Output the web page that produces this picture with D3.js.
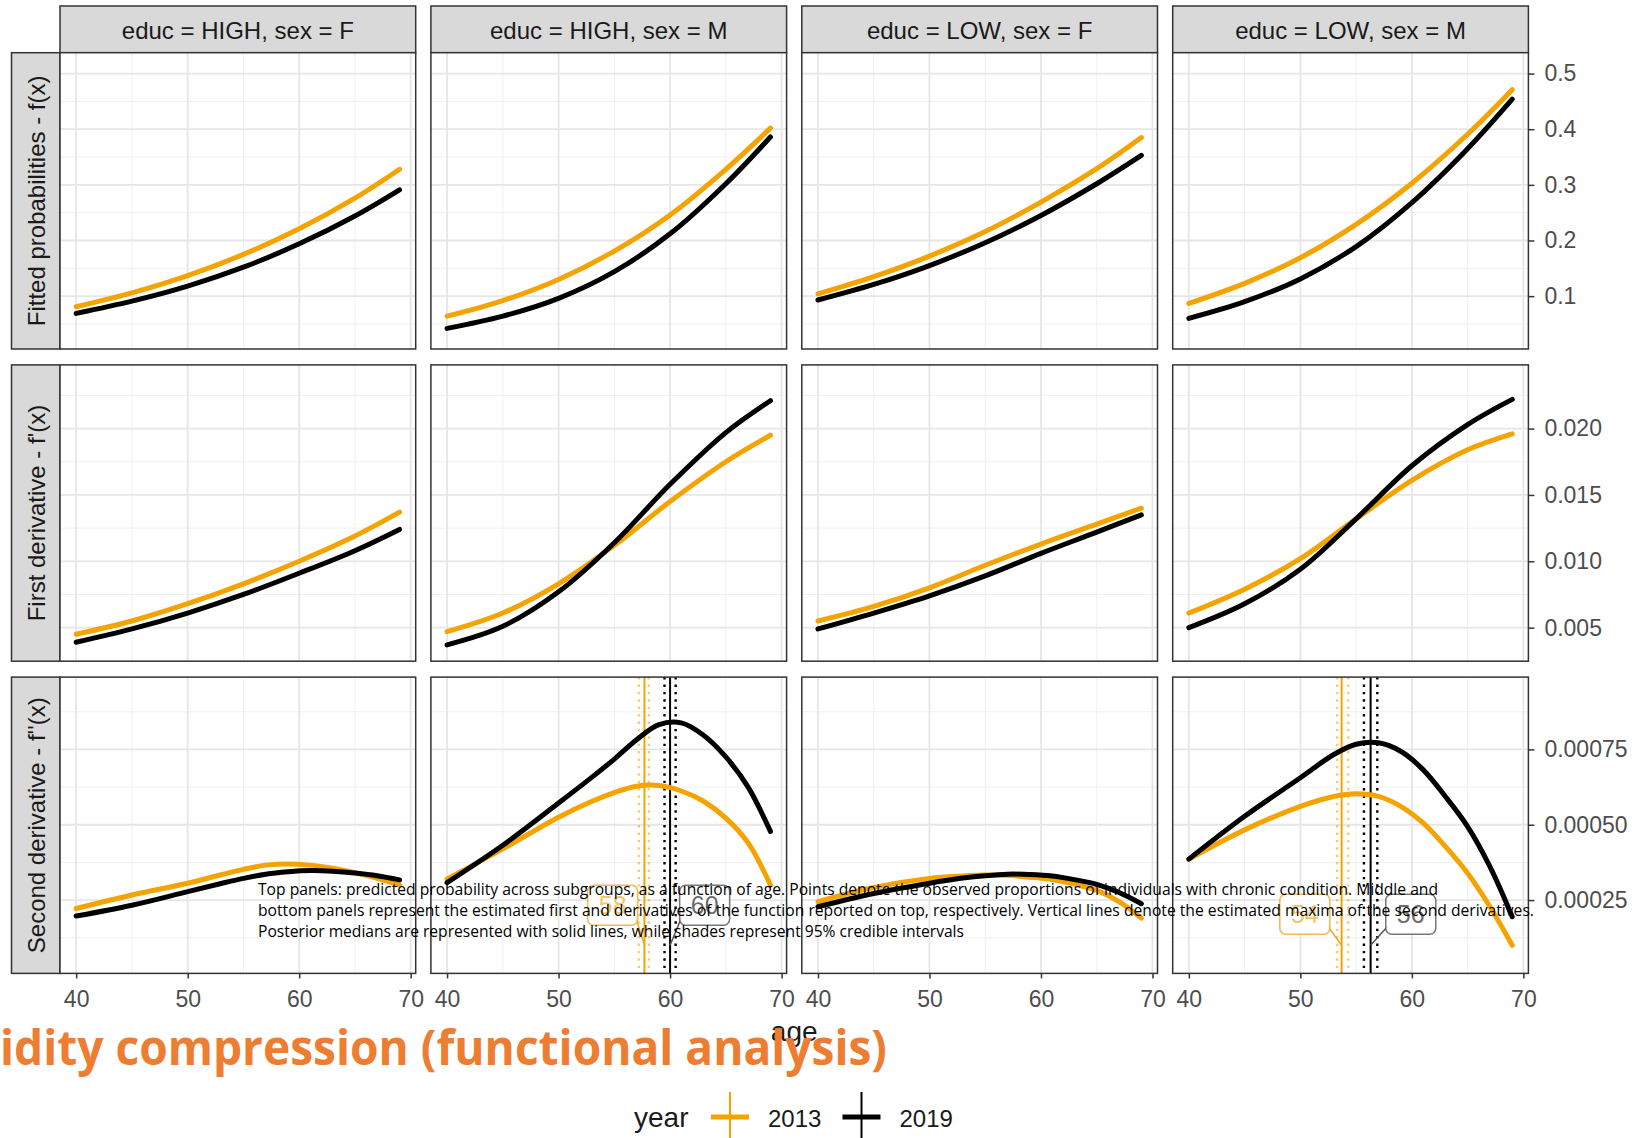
<!DOCTYPE html>
<html>
<head>
<meta charset="utf-8">
<script src="https://cdn.jsdelivr.net/npm/d3@7/dist/d3.min.js"></script>
<style>
  body { margin: 0; background: #fff; }
  svg { display: block; }
</style>
</head>
<body>
<div id="chart"></div>
<script>
// facets
const panelTitles = ["educ = HIGH, sex = F", "educ = HIGH, sex = M", "educ = LOW, sex = F", "educ = LOW, sex = M"];
const rowTitles = ["Fitted probabilities - f(x)", "First derivative - f'(x)", "Second derivative - f''(x)"];
const years = ["2013", "2019"];
const yearColors = ["#F4A300", "#000000"];

// ages
const ages = [40, 45, 50, 55, 60, 65, 69];
const agesPeak = [40, 45, 50, 53, 55, 57, 59, 61, 63, 65, 67, 69];

// fitted probabilities f(x), one array per panel
const prob2013 = [
  [0.081, 0.106, 0.137, 0.175, 0.221, 0.276, 0.328],
  [0.064, 0.092, 0.130, 0.181, 0.246, 0.328, 0.402],
  [0.104, 0.135, 0.172, 0.216, 0.269, 0.329, 0.385],
  [0.087, 0.123, 0.169, 0.229, 0.303, 0.391, 0.471]
];
const prob2019 = [
  [0.069, 0.091, 0.118, 0.152, 0.194, 0.244, 0.291],
  [0.042, 0.064, 0.096, 0.144, 0.212, 0.302, 0.386],
  [0.093, 0.121, 0.155, 0.196, 0.245, 0.302, 0.353],
  [0.060, 0.090, 0.131, 0.189, 0.268, 0.365, 0.454]
];

// first derivative f'(x)
const deriv2013 = [
  [0.0045, 0.0055, 0.0068, 0.0083, 0.0100, 0.0119, 0.0137],
  [0.0047, 0.0061, 0.0083, 0.0112, 0.0145, 0.0175, 0.0195],
  [0.0055, 0.0066, 0.0080, 0.0097, 0.0113, 0.0128, 0.0140],
  [0.0061, 0.0079, 0.0102, 0.0132, 0.0161, 0.0184, 0.0196]
];
const deriv2019 = [
  [0.0039, 0.0049, 0.0061, 0.0075, 0.0091, 0.0108, 0.0124],
  [0.0037, 0.0051, 0.0077, 0.0114, 0.0158, 0.0197, 0.0221],
  [0.0049, 0.0061, 0.0074, 0.0089, 0.0106, 0.0122, 0.0135],
  [0.0050, 0.0068, 0.0094, 0.0132, 0.0172, 0.0203, 0.0222]
];

// second derivative f''(x)
const second2013 = [
  [0.000222, 0.000267, 0.000306, 0.000334, 0.000352, 0.000366, 0.000370, 0.000366, 0.000356, 0.000341, 0.000322, 0.000300],
  [0.000320, 0.000420, 0.000525, 0.000578, 0.000607, 0.000628, 0.000630, 0.000612, 0.000578, 0.000522, 0.000440, 0.000300],
  [0.000245, 0.000292, 0.000322, 0.000330, 0.000333, 0.000332, 0.000326, 0.000318, 0.000303, 0.000282, 0.000245, 0.000190],
  [0.000386, 0.000483, 0.000561, 0.000594, 0.000603, 0.000594, 0.000561, 0.000506, 0.000428, 0.000339, 0.000228, 0.000100]
];
const second2019 = [
  [0.000197, 0.000233, 0.000278, 0.000305, 0.000322, 0.000336, 0.000344, 0.000348, 0.000346, 0.000340, 0.000331, 0.000317],
  [0.000308, 0.000432, 0.000572, 0.000658, 0.000718, 0.000782, 0.000832, 0.000838, 0.000797, 0.000725, 0.000625, 0.000478],
  [0.000228, 0.000272, 0.000306, 0.000323, 0.000331, 0.000336, 0.000335, 0.000330, 0.000318, 0.000302, 0.000275, 0.000238],
  [0.000386, 0.000528, 0.000656, 0.000733, 0.000767, 0.000772, 0.000744, 0.000683, 0.000594, 0.000494, 0.000361, 0.000195]
];

// maxima of the second derivative (median and 95% interval), male panels only
const peakMedian2013 = [null, 57.7, null, 53.7];
const peakLow2013 = [null, 57.2, null, 53.3];
const peakHigh2013 = [null, 58.1, null, 54.3];
const peakMedian2019 = [null, 60.0, null, 56.3];
const peakLow2019 = [null, 59.5, null, 55.7];
const peakHigh2019 = [null, 60.5, null, 56.9];
const peakText2013 = [null, "58", null, "54"];
const peakText2019 = [null, "60", null, "56"];
// repelled label centres (age, value) and segment end value
const labelAge2013 = [null, 54.85, null, 50.4];
const labelAge2019 = [null, 63.1, null, 59.9];
const labelVal = [null, 0.000233, null, 0.000203];
const segEndVal = [null, 0.00010, null, 0.00010];

// axes
const xDomain = [38.55, 70.45];
const xMajor = [40, 50, 60, 70];
const xMinor = [45, 55, 65];
const yDomains = [[0.005, 0.5375], [0.00247, 0.0248], [0.0000067, 0.00099]];
const yMajor = [[0.1, 0.2, 0.3, 0.4, 0.5], [0.005, 0.010, 0.015, 0.020], [0.00025, 0.0005, 0.00075]];
const yMinor = [[0.05, 0.15, 0.25, 0.35, 0.45], [0.0025, 0.0075, 0.0125, 0.0175, 0.0225], [0.000125, 0.000375, 0.000625, 0.000875]];
const yFormats = [".1f", ".3f", ".5f"];

const captionLines = [
  "Top panels: predicted probability across subgroups, as a function of age. Points denote the observed proportions of individuals with chronic condition. Middle and",
  "bottom panels represent the estimated first and derivatives of the function reported on top, respectively. Vertical lines denote the estimated maxima of the second derivatives.",
  "Posterior medians are represented with solid lines, while shades represent 95% credible intervals"
];
const captionWidths = [1180, 1276, 706];
const titleText = "idity compression (functional analysis)";

// layout
const width = 1636, height = 1138;
const left0 = 60, panelW = 355.7, gapX = 15.2;
const stripTop = 6, stripH = 46.7;
const top0 = stripTop + stripH, panelH = 296.3, gapY = 15.9;
const leftStrip = 11.5;
const colLeft = c => left0 + c * (panelW + gapX);
const rowTop = r => top0 + r * (panelH + gapY);
const font = "'Liberation Sans', Arial, sans-serif";

const svg = d3.select("#chart").append("svg")
  .attr("width", width)
  .attr("height", height)
  .style("font-family", font);

const x = d3.scaleLinear().domain(xDomain).range([0, panelW]);

const seriesByRow = [
  [prob2013, prob2019],
  [deriv2013, deriv2019],
  [second2013, second2019]
];
const agesByRow = [ages, ages, agesPeak];

// top strips
panelTitles.forEach((t, c) => {
  const g = svg.append("g").attr("transform", `translate(${colLeft(c)},${stripTop})`);
  g.append("rect")
    .attr("width", panelW).attr("height", stripH)
    .attr("fill", "#D9D9D9").attr("stroke", "#333").attr("stroke-width", 1.5);
  g.append("text")
    .attr("x", panelW / 2).attr("y", stripH / 2 + 1)
    .attr("text-anchor", "middle").attr("dominant-baseline", "central")
    .attr("fill", "#1A1A1A").style("font-size", "24px")
    .text(t);
});

rowTitles.forEach((rowTitle, r) => {
  const y = d3.scaleLinear().domain(yDomains[r]).range([panelH, 0]);

  // left strip
  const sg = svg.append("g").attr("transform", `translate(${leftStrip},${rowTop(r)})`);
  sg.append("rect")
    .attr("width", left0 - leftStrip).attr("height", panelH)
    .attr("fill", "#D9D9D9").attr("stroke", "#333").attr("stroke-width", 1.5);
  sg.append("text")
    .attr("transform", `translate(${(left0 - leftStrip) / 2 + 1},${panelH / 2}) rotate(-90)`)
    .attr("text-anchor", "middle").attr("dominant-baseline", "central")
    .attr("fill", "#1A1A1A").style("font-size", "24px")
    .text(rowTitle);

  panelTitles.forEach((t, c) => {
    const g = svg.append("g").attr("transform", `translate(${colLeft(c)},${rowTop(r)})`);

    g.append("rect").attr("width", panelW).attr("height", panelH).attr("fill", "#fff");

    // grid
    g.selectAll(".vminor").data(xMinor).join("line")
      .attr("x1", d => x(d)).attr("x2", d => x(d)).attr("y1", 0).attr("y2", panelH)
      .attr("stroke", "#F0F0F0").attr("stroke-width", 1);
    g.selectAll(".hminor").data(yMinor[r]).join("line")
      .attr("y1", d => y(d)).attr("y2", d => y(d)).attr("x1", 0).attr("x2", panelW)
      .attr("stroke", "#F0F0F0").attr("stroke-width", 1);
    g.selectAll(".vmajor").data(xMajor).join("line")
      .attr("x1", d => x(d)).attr("x2", d => x(d)).attr("y1", 0).attr("y2", panelH)
      .attr("stroke", "#E6E6E6").attr("stroke-width", 1.8);
    g.selectAll(".hmajor").data(yMajor[r]).join("line")
      .attr("y1", d => y(d)).attr("y2", d => y(d)).attr("x1", 0).attr("x2", panelW)
      .attr("stroke", "#E6E6E6").attr("stroke-width", 1.8);

    // vertical lines for maxima (bottom row)
    if (r === 2 && peakMedian2013[c] !== null) {
      const vl = [
        { lo: peakLow2013[c], med: peakMedian2013[c], hi: peakHigh2013[c], col: yearColors[0], op: 0.55 },
        { lo: peakLow2019[c], med: peakMedian2019[c], hi: peakHigh2019[c], col: yearColors[1], op: 1 }
      ];
      vl.forEach(v => {
        [v.lo, v.hi].forEach(a => {
          g.append("line")
            .attr("x1", x(a)).attr("x2", x(a)).attr("y1", 0).attr("y2", panelH)
            .attr("stroke", v.col).attr("stroke-opacity", v.op)
            .attr("stroke-width", 2.4).attr("stroke-dasharray", "2.4,5");
        });
        g.append("line")
          .attr("x1", x(v.med)).attr("x2", x(v.med)).attr("y1", 0).attr("y2", panelH)
          .attr("stroke", v.col).attr("stroke-width", 2);
      });
    }

    // curves
    const line = d3.line()
      .x((d, i) => x(agesByRow[r][i]))
      .y(d => y(d))
      .curve(d3.curveCatmullRom.alpha(0.5));

    seriesByRow[r].forEach((series, k) => {
      g.append("path")
        .datum(series[c])
        .attr("fill", "none")
        .attr("stroke", yearColors[k])
        .attr("stroke-width", 5)
        .attr("stroke-linecap", "round")
        .attr("d", line);
    });

    // repelled labels for the maxima
    if (r === 2 && peakMedian2013[c] !== null) {
      const labs = [
        { age: labelAge2013[c], text: peakText2013[c], med: peakMedian2013[c], col: "#EBA82A", tcol: "#F0B640" },
        { age: labelAge2019[c], text: peakText2019[c], med: peakMedian2019[c], col: "#555", tcol: "#444" }
      ];
      const bw = 50, bh = 40;
      labs.forEach(l => {
        const cx = x(l.age), cy = y(labelVal[c]);
        const side = x(l.med) > cx ? 1 : -1;
        g.append("line")
          .attr("x1", cx + side * (bw / 2 - 2)).attr("y1", cy + bh * 0.3)
          .attr("x2", x(l.med)).attr("y2", y(segEndVal[c]))
          .attr("stroke", l.col).attr("stroke-width", 1.5);
        g.append("rect")
          .attr("x", cx - bw / 2).attr("y", cy - bh / 2)
          .attr("width", bw).attr("height", bh).attr("rx", 6)
          .attr("fill", "#fff").attr("fill-opacity", 0.85)
          .attr("stroke", l.col).attr("stroke-width", 1.5).attr("stroke-opacity", 0.8);
        g.append("text")
          .attr("x", cx).attr("y", cy)
          .attr("text-anchor", "middle").attr("dominant-baseline", "central")
          .attr("fill", l.tcol).attr("fill-opacity", 0.8)
          .style("font-size", "25px")
          .text(l.text);
      });
    }

    // panel border
    g.append("rect").attr("width", panelW).attr("height", panelH)
      .attr("fill", "none").attr("stroke", "#333").attr("stroke-width", 1.5);

    // x axis on bottom row
    if (r === 2) {
      const ax = g.append("g").attr("transform", `translate(0,${panelH})`)
        .call(d3.axisBottom(x).tickValues(xMajor).tickSize(5).tickPadding(12).tickFormat(d3.format("d")));
      ax.select(".domain").remove();
      ax.selectAll("line").attr("stroke", "#333").attr("stroke-width", 1.5);
      ax.selectAll("text").attr("fill", "#4D4D4D").style("font-size", "23px").style("font-family", font);
    }
    // y axis on right column
    if (c === 3) {
      const ay = g.append("g").attr("transform", `translate(${panelW},0)`)
        .call(d3.axisRight(y).tickValues(yMajor[r]).tickSize(6).tickPadding(10).tickFormat(d3.format(yFormats[r])));
      ay.select(".domain").remove();
      ay.selectAll("line").attr("stroke", "#333").attr("stroke-width", 1.5);
      ay.selectAll("text").attr("fill", "#4D4D4D").style("font-size", "23px").style("font-family", font);
    }
  });
});

// x axis title
svg.append("text")
  .attr("x", (colLeft(0) + colLeft(3) + panelW) / 2).attr("y", 1041)
  .attr("text-anchor", "middle").attr("fill", "#1A1A1A")
  .style("font-size", "28px")
  .text("age");

// caption overlay
svg.append("g").selectAll("text").data(captionLines).join("text")
  .attr("x", 258).attr("y", (d, i) => 895 + i * 21)
  .attr("textLength", (d, i) => captionWidths[i])
  .attr("lengthAdjust", "spacingAndGlyphs")
  .attr("fill", "#000")
  .style("font-family", "'Open Sans', 'Noto Sans', sans-serif")
  .style("font-size", "16px")
  .text(d => d);

// slide title (cut at the left edge)
svg.append("text")
  .attr("x", 0).attr("y", 1065)
  .attr("textLength", 887).attr("lengthAdjust", "spacingAndGlyphs")
  .attr("fill", "#ED7D31")
  .style("font-family", "'Open Sans', 'Noto Sans', sans-serif")
  .style("font-weight", "bold")
  .style("font-size", "49px")
  .text(titleText);

// legend
const legend = svg.append("g");
legend.append("text")
  .attr("x", 634).attr("y", 1127)
  .attr("fill", "#1A1A1A").style("font-size", "28px")
  .text("year");
years.forEach((yr, i) => {
  const kx = 730 + i * 131.5;
  legend.append("line")
    .attr("x1", kx).attr("x2", kx).attr("y1", 1092).attr("y2", 1145)
    .attr("stroke", yearColors[i]).attr("stroke-width", 2);
  legend.append("line")
    .attr("x1", kx - 19).attr("x2", kx + 19).attr("y1", 1117).attr("y2", 1117)
    .attr("stroke", yearColors[i]).attr("stroke-width", 5);
  legend.append("text")
    .attr("x", kx + 38).attr("y", 1127)
    .attr("fill", "#1A1A1A").style("font-size", "24px")
    .text(yr);
});
</script>
</body>
</html>
